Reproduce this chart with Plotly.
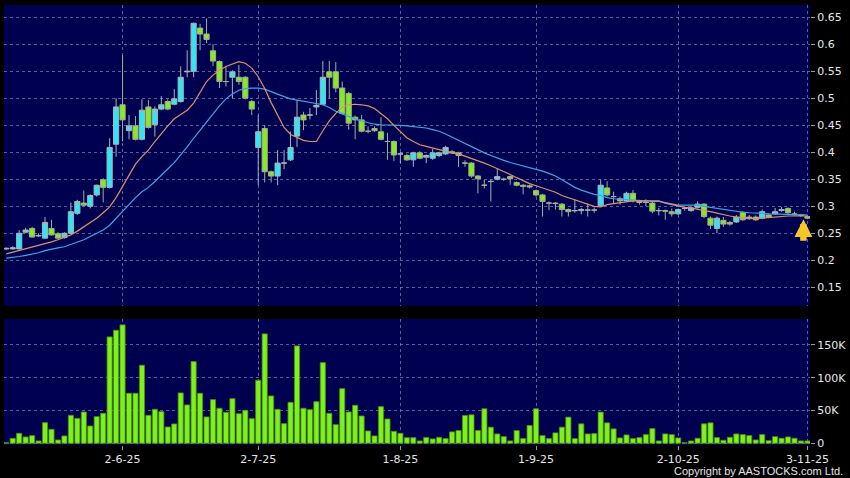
import pandas as pd
import plotly.graph_objects as go

# ---- categories: HK trading days shown on the chart ----
holidays = ["2025-07-01", "2025-10-01", "2025-10-07", "2025-10-29"]
dates = [d.strftime("%Y-%m-%d") for d in pd.bdate_range("2025-05-07", "2025-11-03")
         if d.strftime("%Y-%m-%d") not in holidays]

tick_dates = ["2025-06-02", "2025-07-02", "2025-08-01", "2025-09-01", "2025-10-02", "2025-11-03"]
tick_text = ["2-6-25", "2-7-25", "1-8-25", "1-9-25", "2-10-25", "3-11-25"]

price_ticks = [0.15, 0.2, 0.25, 0.3, 0.35, 0.4, 0.45, 0.5, 0.55, 0.6, 0.65]
price_tick_text = ["0.15", "0.2", "0.25", "0.3", "0.35", "0.4", "0.45", "0.5", "0.55", "0.6", "0.65"]
vol_ticks = [0, 50000, 100000, 150000]
vol_tick_text = ["0", "50K", "100K", "150K"]

# ---- OHLC ----
open_ = [0.221,0.221,0.221,0.252,0.259,0.245,0.241,0.259,0.249,0.242,
         0.250,0.287,0.306,0.300,0.321,0.349,0.335,0.415,0.488,0.440,
         0.449,0.424,0.484,0.451,0.480,0.494,0.489,0.494,0.549,0.550,
         0.630,0.619,0.588,0.568,0.531,0.539,0.539,0.539,0.494,0.409,
         0.444,0.364,0.356,0.380,0.386,0.430,0.469,0.469,0.484,0.489,
         0.549,0.549,0.519,0.509,0.465,0.460,0.439,0.444,0.438,0.420,
         0.420,0.397,0.394,0.386,0.399,0.391,0.389,0.394,0.397,0.401,
         0.399,0.380,0.380,0.356,0.339,0.346,0.350,0.350,0.355,0.344,
         0.339,0.338,0.329,0.321,0.306,0.306,0.304,0.294,0.292,0.292,
         0.293,0.293,0.301,0.334,0.318,0.314,0.310,0.324,0.310,0.308,
         0.306,0.292,0.292,0.290,0.286,0.296,0.292,0.298,0.304,0.278,
         0.259,0.274,0.270,0.271,0.289,0.277,0.280,0.278,0.284,0.286,
         0.292,0.296,0.286,0.284,0.281]
high = [0.224,0.226,0.256,0.260,0.262,0.250,0.280,0.275,0.252,0.252,
        0.307,0.312,0.329,0.322,0.340,0.352,0.426,0.500,0.580,0.469,
        0.467,0.498,0.497,0.485,0.504,0.498,0.517,0.559,0.589,0.640,
        0.638,0.648,0.600,0.570,0.560,0.552,0.562,0.541,0.497,0.469,
        0.450,0.366,0.404,0.404,0.438,0.497,0.475,0.482,0.515,0.569,
        0.569,0.567,0.531,0.512,0.468,0.469,0.448,0.448,0.465,0.436,
        0.422,0.400,0.397,0.401,0.402,0.396,0.406,0.401,0.412,0.404,
        0.401,0.385,0.382,0.358,0.349,0.350,0.370,0.353,0.357,0.346,
        0.341,0.340,0.331,0.323,0.309,0.308,0.306,0.296,0.313,0.297,
        0.305,0.298,0.349,0.346,0.327,0.318,0.327,0.330,0.312,0.313,
        0.308,0.297,0.294,0.296,0.296,0.299,0.300,0.309,0.306,0.281,
        0.281,0.280,0.273,0.284,0.291,0.284,0.283,0.294,0.287,0.297,
        0.299,0.298,0.290,0.286,0.283]
low = [0.219,0.220,0.220,0.250,0.242,0.243,0.240,0.246,0.240,0.240,
       0.249,0.284,0.300,0.296,0.318,0.307,0.333,0.392,0.420,0.424,
       0.422,0.422,0.444,0.429,0.478,0.478,0.487,0.492,0.539,0.539,
       0.589,0.602,0.560,0.519,0.522,0.500,0.525,0.498,0.469,0.339,
       0.344,0.344,0.339,0.369,0.384,0.410,0.441,0.461,0.469,0.487,
       0.500,0.511,0.470,0.442,0.424,0.437,0.435,0.438,0.422,0.386,
       0.384,0.380,0.384,0.373,0.387,0.380,0.386,0.391,0.395,0.397,
       0.373,0.373,0.353,0.324,0.333,0.309,0.348,0.347,0.340,0.337,
       0.322,0.333,0.318,0.281,0.293,0.294,0.281,0.281,0.288,0.285,
       0.281,0.288,0.299,0.318,0.306,0.303,0.308,0.307,0.303,0.300,
       0.287,0.283,0.275,0.281,0.284,0.292,0.290,0.296,0.278,0.258,
       0.250,0.262,0.264,0.269,0.273,0.275,0.273,0.276,0.278,0.284,
       0.290,0.285,0.283,0.280,0.276]
close = [0.222,0.223,0.250,0.256,0.243,0.246,0.270,0.247,0.241,0.250,
         0.290,0.309,0.302,0.320,0.339,0.335,0.409,0.484,0.460,0.449,
         0.424,0.478,0.446,0.480,0.488,0.480,0.499,0.539,0.550,0.639,
         0.619,0.609,0.569,0.531,0.531,0.549,0.531,0.500,0.480,0.438,
         0.364,0.356,0.380,0.380,0.409,0.465,0.460,0.469,0.487,0.539,
         0.539,0.519,0.472,0.454,0.460,0.439,0.439,0.440,0.424,0.420,
         0.395,0.397,0.386,0.399,0.389,0.394,0.399,0.399,0.409,0.399,
         0.394,0.380,0.356,0.351,0.339,0.346,0.355,0.350,0.351,0.339,
         0.337,0.336,0.321,0.309,0.306,0.305,0.294,0.290,0.292,0.294,
         0.293,0.293,0.339,0.321,0.318,0.310,0.324,0.310,0.307,0.307,
         0.291,0.292,0.291,0.286,0.294,0.296,0.297,0.304,0.281,0.265,
         0.278,0.267,0.267,0.280,0.275,0.280,0.275,0.290,0.280,0.290,
         0.294,0.288,0.285,0.283,0.278]

# ---- moving averages as drawn (10-day orange, 20-day blue) ----
ma10 = [0.212,0.215,0.218,0.221,0.224,0.227,0.230,0.234,0.238,0.242,
        0.247,0.254,0.262,0.270,0.278,0.288,0.299,0.316,0.336,0.358,
        0.378,0.392,0.404,0.420,0.435,0.449,0.462,0.470,0.478,0.491,
        0.512,0.531,0.543,0.552,0.559,0.564,0.568,0.565,0.556,0.540,
        0.518,0.492,0.469,0.446,0.433,0.427,0.422,0.420,0.420,0.440,
        0.458,0.472,0.484,0.488,0.489,0.488,0.486,0.481,0.472,0.462,
        0.450,0.438,0.427,0.420,0.414,0.411,0.408,0.404,0.401,0.399,
        0.397,0.393,0.389,0.385,0.380,0.375,0.370,0.364,0.359,0.353,
        0.347,0.342,0.338,0.334,0.330,0.326,0.320,0.316,0.312,0.307,
        0.303,0.300,0.299,0.303,0.305,0.307,0.308,0.310,0.310,0.310,
        0.310,0.310,0.306,0.303,0.300,0.298,0.297,0.294,0.292,0.290,
        0.287,0.284,0.282,0.280,0.279,0.278,0.277,0.278,0.279,0.281,
        0.281,0.282,0.282,0.282,0.282]
ma20 = [0.204,0.205,0.207,0.209,0.211,0.214,0.218,0.221,0.223,0.225,
        0.229,0.233,0.238,0.244,0.250,0.256,0.265,0.278,0.291,0.303,
        0.316,0.327,0.335,0.346,0.357,0.369,0.381,0.395,0.410,0.426,
        0.441,0.457,0.472,0.486,0.499,0.508,0.515,0.518,0.519,0.519,
        0.517,0.512,0.507,0.503,0.499,0.497,0.495,0.493,0.491,0.488,
        0.483,0.476,0.471,0.466,0.462,0.458,0.455,0.452,0.451,0.451,
        0.451,0.450,0.449,0.448,0.447,0.445,0.442,0.439,0.434,0.428,
        0.423,0.417,0.410,0.404,0.399,0.394,0.389,0.385,0.381,0.378,
        0.374,0.371,0.368,0.365,0.361,0.356,0.349,0.342,0.335,0.330,
        0.326,0.322,0.320,0.316,0.314,0.313,0.312,0.311,0.311,0.310,
        0.309,0.309,0.307,0.304,0.302,0.302,0.302,0.302,0.300,0.298,
        0.296,0.294,0.292,0.290,0.289,0.288,0.288,0.287,0.286,0.286,
        0.285,0.285,0.284,0.284,0.284]

# ---- volume (thousands of shares) ----
volume_k = [1.0,
            7.6,15.3,9.7,11.7,3.6,31.5,21.4,5.1,11.2,42.7,
            38.1,47.8,26.4,40.7,45.8,162.2,172.3,180.5,76.3,76.3,
            119.0,42.7,51.9,48.3,24.9,29.5,76.8,58.5,124.6,76.3,
            40.2,66.6,53.4,47.3,68.1,45.2,50.3,37.6,96.1,166.8,
            72.2,51.9,30.0,62.5,148.5,53.4,51.3,63.5,123.0,45.8,
            28.5,83.4,47.8,58.0,41.7,18.8,11.2,55.9,37.1,18.3,
            15.3,8.6,8.6,3.6,9.0,
            6.7,9.2,7.2,17.4,19.5,
            42.5,43.5,19.5,52.7,24.6,14.3,10.2,3.6,19.5,7.2,
            27.1,52.7,11.8,7.2,15.9,24.6,39.9,7.2,29.7,14.3,
            14.8,47.6,31.2,22.0,8.2,12.8,7.2,8.7,13.3,22.5,
            3.6,14.3,13.3,8.2,1.0,3.6,7.7,29.7,31.2,8.7,
            4.6,9.2,14.3,13.3,11.8,5.1,13.3,4.1,10.2,7.7,
            9.7,7.7,3.6,3.6]
volume = [v * 1000 for v in volume_k]

BG = "#000050"
GRID = "rgba(125,125,175,0.75)"
TXT = "#e6e6e6"

fig = go.Figure()
fig.add_trace(go.Candlestick(
    x=dates, open=open_, high=high, low=low, close=close,
    increasing=dict(line=dict(color="#a8b4b8", width=1), fillcolor="#2ee6f4"),
    decreasing=dict(line=dict(color="#a0b090", width=1), fillcolor="#86ec1e"),
    whiskerwidth=0, xaxis="x", yaxis="y", showlegend=False, hoverinfo="skip"))
fig.add_trace(go.Scatter(x=dates, y=ma20, mode="lines", line=dict(color="#3ca6e6", width=1.2),
                         xaxis="x", yaxis="y", showlegend=False, hoverinfo="skip"))
fig.add_trace(go.Scatter(x=dates, y=ma10, mode="lines", line=dict(color="#e0906a", width=1.2),
                         xaxis="x", yaxis="y", showlegend=False, hoverinfo="skip"))
fig.add_trace(go.Bar(x=dates, y=volume, marker=dict(color="#7ef01a", line=dict(color="#4a8c12", width=0.8)),
                     xaxis="x2", yaxis="y2", showlegend=False, hoverinfo="skip"))

n = len(dates)
xr = [-0.35, n - 1 + 0.4]
common_x = dict(type="category", categoryorder="array", categoryarray=dates, range=xr,
                tickvals=tick_dates, ticktext=tick_text, showgrid=True, gridcolor=GRID,
                griddash="3px,3px", gridwidth=1, zeroline=False, showline=False,
                rangeslider=dict(visible=False), fixedrange=True)

fig.update_layout(
    width=850, height=478,
    paper_bgcolor="#000000", plot_bgcolor=BG,
    margin=dict(l=4, r=40, t=5, b=33),
    font=dict(family="DejaVu Sans", size=11, color=TXT),
    bargap=0.2, boxgap=0.2, boxgroupgap=0,
    xaxis=dict(common_x, domain=[0, 1], anchor="y", showticklabels=False, ticks=""),
    xaxis2=dict(common_x, domain=[0, 1], anchor="y2", matches="x", showticklabels=True,
                ticks="outside", ticklen=4, tickcolor="#9a9a9a",
                tickfont=dict(family="DejaVu Sans", size=11, color=TXT)),
    yaxis=dict(domain=[0.316, 1], range=[0.1154, 0.6728], side="right",
               tickvals=price_ticks, ticktext=price_tick_text,
               ticks="outside", ticklen=4, tickcolor="#9a9a9a",
               showgrid=True, gridcolor=GRID, griddash="3px,3px", zeroline=False,
               tickfont=dict(family="DejaVu Sans", size=11, color=TXT), fixedrange=True),
    yaxis2=dict(domain=[0, 0.2864], range=[-2600, 189500], side="right",
                tickvals=vol_ticks, ticktext=vol_tick_text,
                ticks="outside", ticklen=4, tickcolor="#9a9a9a",
                showgrid=True, gridcolor=GRID, griddash="3px,3px", zeroline=False,
                tickfont=dict(family="DejaVu Sans", size=11, color=TXT), fixedrange=True),
)

# yellow block arrow pointing up at the latest candle
fig.add_annotation(x=dates[-1], y=low[-1], xref="x", yref="y", text="",
                   showarrow=True, arrowhead=2, arrowsize=0.55, arrowwidth=6.5,
                   arrowcolor="#f6c825", ax=0, ay=23, xshift=-4, yshift=0)

fig.add_annotation(text="Copyright by AASTOCKS.com Ltd.", xref="paper", yref="paper",
                   x=1.0434, y=-0.059, xanchor="right", yanchor="middle", showarrow=False,
                   font=dict(family="Liberation Sans", size=11, color=TXT))

fig.write_html("out.html", config={"displayModeBar": False},
               post_script="document.body.style.margin='0';")
